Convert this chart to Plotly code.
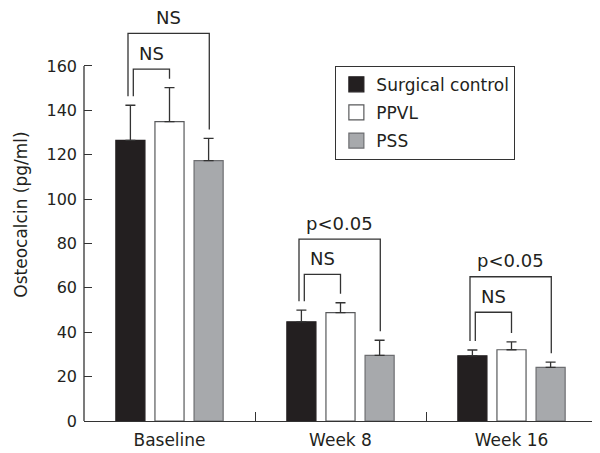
import plotly.graph_objects as go

categories = ["Baseline", "Week 8", "Week 16"]
series_names = ["Surgical control", "PPVL", "PSS"]
means = {
    "Surgical control": [126.5, 44.7, 29.4],
    "PPVL": [134.9, 48.8, 32.1],
    "PSS": [117.3, 29.6, 24.2],
}
sds = {
    "Surgical control": [15.8, 5.3, 2.6],
    "PPVL": [15.3, 4.5, 3.6],
    "PSS": [10.1, 6.8, 2.3],
}
y_ticks = [0, 20, 40, 60, 80, 100, 120, 140, 160]
inner_labels = ["NS", "NS", "NS"]
outer_labels = ["NS", "p<0.05", "p<0.05"]
inner_levels = [158.6, 66.1, 49.0]
outer_levels = [174.7, 82.0, 65.0]

fills = ["#231f20", "#ffffff", "#a7a9ac"]
edges = ["#231f20", "#58595b", "#6d6e71"]
FONT = "DejaVu Sans"
INK = "#333333"

bargap = 0.314
slot = (1 - bargap) / 3
offsets = [-slot, 0, slot]

fig = go.Figure()
for k, name in enumerate(series_names):
    fig.add_trace(go.Bar(
        x=categories, y=means[name], name=name,
        marker=dict(color=fills[k], line=dict(color=edges[k], width=1.2)),
        error_y=dict(type="data", array=sds[name], arrayminus=[0] * 3,
                     symmetric=False, color=INK, thickness=1.3, width=5),
        showlegend=False,
    ))
    fig.add_trace(go.Scatter(
        x=[None], y=[None], mode="markers", name=name, legendgroup=name,
        marker=dict(symbol="square", size=15, color=fills[k],
                    line=dict(color=edges[k], width=1.2)),
    ))

gap = 4
shapes = []
annotations = []
for i in range(len(categories)):
    tops = [means[n][i] + sds[n][i] for n in series_names]
    xl_in = i + offsets[0] + 0.017
    xl_out = i + offsets[0] - 0.014
    xr_in = i + offsets[1]
    xr_out = i + offsets[2] + 0.004
    yl = tops[0] + gap
    shapes.append(dict(type="path", xref="x", yref="y",
                       path=f"M{xl_in},{yl} L{xl_in},{inner_levels[i]} L{xr_in},{inner_levels[i]} L{xr_in},{tops[1] + gap}",
                       line=dict(color=INK, width=1.3)))
    shapes.append(dict(type="path", xref="x", yref="y",
                       path=f"M{xl_out},{yl} L{xl_out},{outer_levels[i]} L{xr_out},{outer_levels[i]} L{xr_out},{tops[2] + gap}",
                       line=dict(color=INK, width=1.3)))
    annotations.append(dict(x=(xl_in + xr_in) / 2, y=inner_levels[i], xref="x", yref="y",
                            text=inner_labels[i], showarrow=False, yanchor="middle", yshift=16,
                            font=dict(family=FONT, size=18, color="#231f20")))
    annotations.append(dict(x=(xl_out + xr_out) / 2, y=outer_levels[i], xref="x", yref="y",
                            text=outer_labels[i], showarrow=False, yanchor="middle", yshift=16,
                            font=dict(family=FONT, size=18, color="#231f20")))

# y axis line only up to the top tick
shapes.append(dict(type="line", xref="paper", yref="y", x0=0, x1=0, y0=0, y1=y_ticks[-1],
                   line=dict(color=INK, width=1.3)))

W, H = 592, 445
top_margin = 0
bottom_margin = 32
px_per_unit = 2.219
plot_h = H - top_margin - bottom_margin
y_max = plot_h / px_per_unit

fig.update_layout(
    width=W, height=H,
    margin=dict(l=76, r=3, t=top_margin, b=bottom_margin),
    plot_bgcolor="white", paper_bgcolor="white",
    barmode="group", bargap=bargap, bargroupgap=0.256,
    font=dict(family=FONT, color="#231f20"),
    shapes=shapes, annotations=annotations,
    legend=dict(x=0.49, y=0.86, xanchor="left", yanchor="top",
                bordercolor=INK, borderwidth=1, bgcolor="white",
                font=dict(family=FONT, size=17), tracegroupgap=3),
    xaxis=dict(type="category", showline=True, linecolor=INK, linewidth=1.3,
               ticks="inside", tickson="boundaries", ticklen=9, tickcolor=INK,
               tickwidth=1.3, tickfont=dict(size=17), showgrid=False, zeroline=False,
               automargin=False, ticklabelstandoff=3),
    yaxis=dict(range=[0, y_max], tickvals=y_ticks, ticks="inside", ticklen=8,
               tickcolor=INK, tickwidth=1.3, showline=False, showgrid=False,
               zeroline=False, tickfont=dict(size=16), automargin=False,
               ticklabelstandoff=6,
               title=dict(text="Osteocalcin (pg/ml)", font=dict(size=17), standoff=14)),
)

fig.write_html("out.html")
